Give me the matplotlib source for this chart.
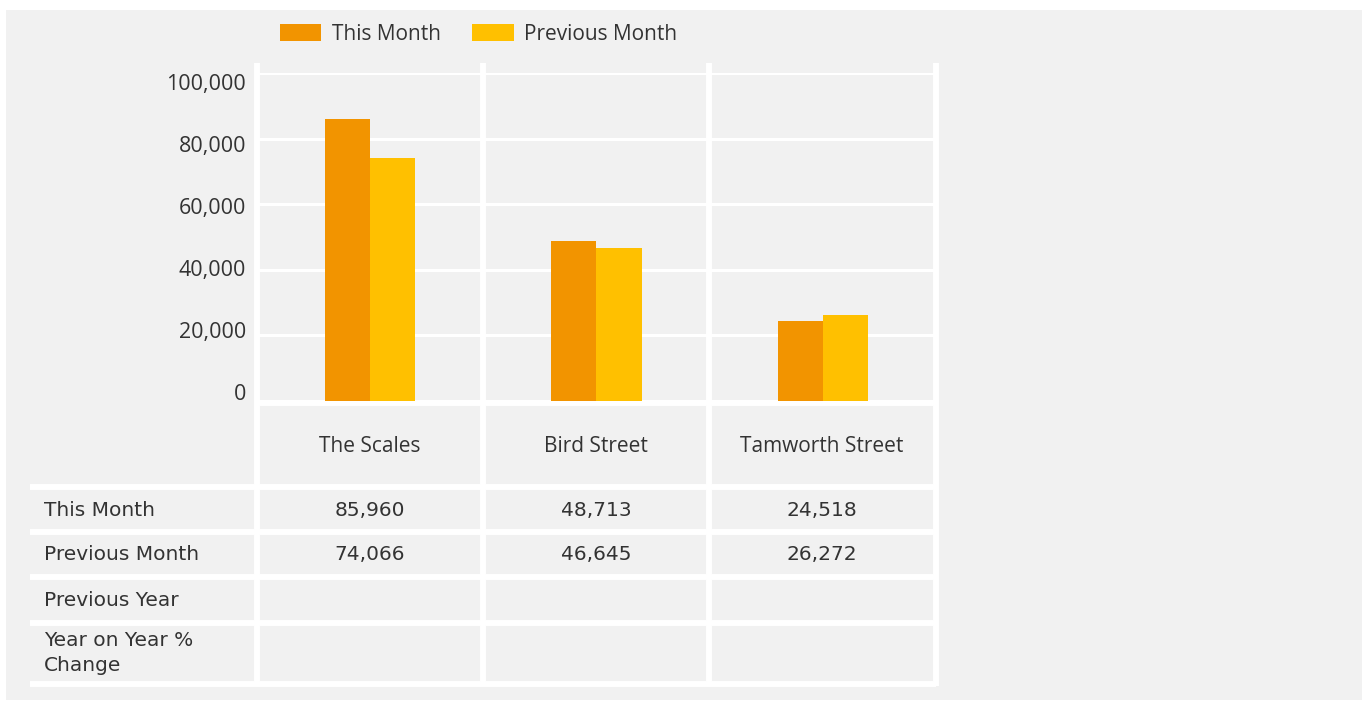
import numpy as np
import matplotlib
matplotlib.use('Agg')
import matplotlib.pyplot as plt
from matplotlib.patches import Rectangle
from matplotlib.lines import Line2D
from matplotlib.ticker import FuncFormatter
import matplotlib.transforms as mtransforms

# data
categories = ['The Scales', 'Bird Street', 'Tamworth Street']
this_month = [85960, 48713, 24518]
previous_month = [74066, 46645, 26272]
row_labels = ['This Month', 'Previous Month', 'Previous Year', 'Year on Year %\nChange']
y_ticks = [0, 20000, 40000, 60000, 80000, 100000]

ORANGE = '#F29400'
YELLOW = '#FFC000'
PANEL = '#F1F1F1'
TEXT = '#333333'
FONT = 'Open Sans'
TABFONT = 'DejaVu Sans'
plt.rcParams['font.family'] = [FONT, 'DejaVu Sans']

W, H = 1369, 702
fig = plt.figure(figsize=(W / 100, H / 100), dpi=100, facecolor='white')

# background axes in pixel coordinates (y down)
bg = fig.add_axes([0, 0, 1, 1])
bg.set_xlim(0, W)
bg.set_ylim(H, 0)
bg.axis('off')
bg.add_patch(Rectangle((6, 10), 1356, 690, facecolor=PANEL, edgecolor='none'))

def px(x0, y0, x1, y1):
    return [x0 / W, 1 - y1 / H, (x1 - x0) / W, (y1 - y0) / H]

# chart axes
ax = fig.add_axes(px(257, 73, 936, 401))
ax.set_facecolor('none')
x = np.arange(len(categories))
bw = 0.2
ax.bar(x - bw / 2, this_month, bw, color=ORANGE, label='This Month', zorder=3)
ax.bar(x + bw / 2, previous_month, bw, color=YELLOW, label='Previous Month', zorder=3)
ax.set_xlim(-0.5, len(categories) - 0.5)
ax.set_ylim(0, 100000)
ax.set_yticks(y_ticks)
ax.yaxis.set_major_formatter(FuncFormatter(lambda v, p: f'{int(v):,}'))
ax.set_xticks([])
ax.tick_params(axis='y', length=0, pad=8, labelsize=15.5, labelcolor=TEXT)
for s in ax.spines.values():
    s.set_visible(False)
ax.grid(axis='y', color='white', lw=2.2, zorder=1)

# the labels sit a little inside the grid lines, as in the original
fig.canvas.draw()
n = len(y_ticks)
for i, lab in enumerate(ax.get_yticklabels()):
    dy = -(9 - 18 * (n - 1 - i) / (n - 1)) / 100.0
    lab.set_transform(lab.get_transform() + mtransforms.ScaledTranslation(0, dy, fig.dpi_scale_trans))

ax.legend(loc='center left', bbox_to_anchor=(261 / W, 1 - 34 / H),
          bbox_transform=fig.transFigure, ncol=2, frameon=False, fontsize=15,
          handlelength=2.0, handleheight=0.85, handletextpad=0.5,
          columnspacing=1.5, labelcolor=TEXT)

# white grid lines of the table and chart columns
lw_tab = 4.3
for xv in [257, 483, 709, 936]:
    bg.add_line(Line2D([xv, xv], [63, 686], color='white', lw=lw_tab,
                       solid_capstyle='butt', zorder=2))
bg.add_line(Line2D([257, 936], [403, 403], color='white', lw=lw_tab,
                   solid_capstyle='butt', zorder=2))
for yv in [487, 532, 577, 623, 684]:
    bg.add_line(Line2D([30, 936], [yv, yv], color='white', lw=lw_tab,
                       solid_capstyle='butt', zorder=2))

# table text
col_x = [370, 596, 822]
for cx, cat in zip(col_x, categories):
    bg.text(cx, 447, cat, ha='center', va='center', fontsize=15, color=TEXT)

row_y = [510, 555, 601, 653]
for ry, lab in zip(row_y, row_labels):
    bg.text(44, ry, lab, ha='left', va='center', fontsize=14.5, color=TEXT,
            family=TABFONT, linespacing=1.45)

for cx, v in zip(col_x, this_month):
    bg.text(cx, row_y[0], f'{v:,}', ha='center', va='center', fontsize=14.5,
            color=TEXT, family=TABFONT)
for cx, v in zip(col_x, previous_month):
    bg.text(cx, row_y[1], f'{v:,}', ha='center', va='center', fontsize=14.5,
            color=TEXT, family=TABFONT)

fig.savefig('out.png', dpi=100, facecolor='white')
